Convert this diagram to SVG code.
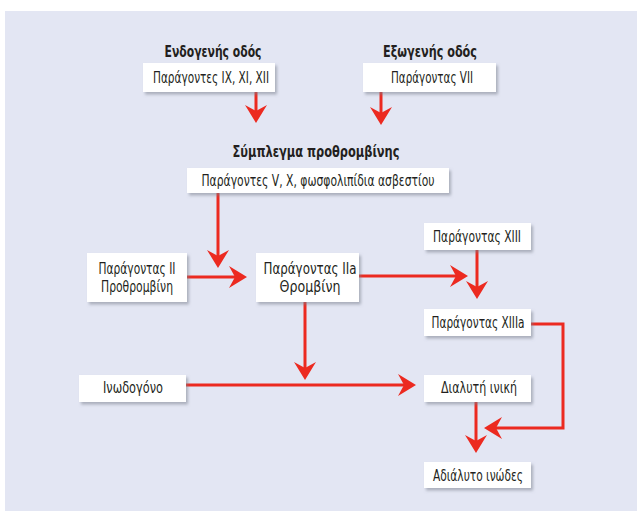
<svg xmlns="http://www.w3.org/2000/svg" width="637" height="511" viewBox="0 0 637 511">
  <style>
    .box { fill: #ffffff; filter: url(#sh); }
    .t { font-family: "Liberation Sans Narrow", "DejaVu Sans Condensed", "Liberation Sans", sans-serif; font-size: 15px; fill: #231f20; text-anchor: middle; }
    .h { font-family: "Liberation Sans Narrow", "DejaVu Sans Condensed", "Liberation Sans", sans-serif; font-size: 15px; font-weight: bold; fill: #231f20; text-anchor: middle; }
    .c { fill: none; stroke: #ec2a20; stroke-width: 3; marker-end: url(#ah); }
  </style>
  <defs>
    <filter id="sh" x="-10%" y="-20%" width="130%" height="160%">
      <feDropShadow dx="2" dy="2.5" stdDeviation="1.5" flood-color="#7a7f8c" flood-opacity="0.55"/>
    </filter>
    <marker id="ah" viewBox="0 0 18 22" refX="12" refY="11" markerWidth="18" markerHeight="22" markerUnits="userSpaceOnUse" orient="auto">
      <path d="M0,0 L18,11 L0,22 L6,11 Z" fill="#ec2a20"/>
    </marker>
  </defs>
  <rect x="0" y="0" width="637" height="511" fill="#ffffff"/>
  <rect x="5" y="11" width="632" height="500" fill="#e3e6f3"/>

  <g id="connectors">
    <path class="c" d="M256,92 V117"/>
    <path class="c" d="M381,92 V119"/>
    <path class="c" d="M218,193 V262"/>
    <path class="c" d="M187,277 H241"/>
    <path class="c" d="M359,276 H462"/>
    <path class="c" d="M477,250 V293"/>
    <path class="c" d="M305,302 V374"/>
    <path class="c" d="M186,385 H410"/>
    <path class="c" d="M531,324 H563 V428 H490"/>
    <path class="c" d="M476,402 V447"/>
  </g>

  <g id="title-endogenous">
    <text class="h" x="213" y="57" textLength="97" lengthAdjust="spacingAndGlyphs">Ενδογενής οδός</text>
  </g>
  <g id="title-exogenous">
    <text class="h" x="430" y="57" textLength="94" lengthAdjust="spacingAndGlyphs">Εξωγενής οδός</text>
  </g>
  <g id="title-prothrombin-complex">
    <text class="h" x="316" y="157" textLength="167" lengthAdjust="spacingAndGlyphs">Σύμπλεγμα προθρομβίνης</text>
  </g>

  <g id="node-ix-xi-xii">
    <rect class="box" x="143" y="63" width="132" height="29"/>
    <text class="t" x="211" y="83" textLength="116" lengthAdjust="spacingAndGlyphs">Παράγοντες IX, XI, XII</text>
  </g>
  <g id="node-vii">
    <rect class="box" x="363" y="63" width="133" height="29"/>
    <text class="t" x="432" y="83" textLength="82" lengthAdjust="spacingAndGlyphs">Παράγοντας VII</text>
  </g>
  <g id="node-v-x">
    <rect class="box" x="187" y="168" width="262" height="25"/>
    <text class="t" x="318" y="186" textLength="233" lengthAdjust="spacingAndGlyphs">Παράγοντες V, X, φωσφολιπίδια ασβεστίου</text>
  </g>
  <g id="node-ii">
    <rect class="box" x="87" y="253" width="100" height="49"/>
    <text class="t" x="137" y="274" textLength="77" lengthAdjust="spacingAndGlyphs">Παράγοντας II</text>
    <text class="t" x="137" y="292" textLength="72" lengthAdjust="spacingAndGlyphs">Προθρομβίνη</text>
  </g>
  <g id="node-iia">
    <rect class="box" x="256" y="253" width="103" height="49"/>
    <text class="t" x="310" y="274" textLength="93" lengthAdjust="spacingAndGlyphs">Παράγοντας IIa</text>
    <text class="t" x="310" y="292" textLength="61" lengthAdjust="spacingAndGlyphs">Θρομβίνη</text>
  </g>
  <g id="node-xiii">
    <rect class="box" x="424" y="223" width="107" height="27"/>
    <text class="t" x="477" y="242" textLength="88" lengthAdjust="spacingAndGlyphs">Παράγοντας XIII</text>
  </g>
  <g id="node-xiiia">
    <rect class="box" x="424" y="309" width="107" height="27"/>
    <text class="t" x="478" y="328" textLength="93" lengthAdjust="spacingAndGlyphs">Παράγοντας XIIIa</text>
  </g>
  <g id="node-fibrinogen">
    <rect class="box" x="79" y="375" width="107" height="27"/>
    <text class="t" x="133" y="393" textLength="60" lengthAdjust="spacingAndGlyphs">Ινωδογόνο</text>
  </g>
  <g id="node-soluble-fibrin">
    <rect class="box" x="424" y="375" width="107" height="27"/>
    <text class="t" x="479" y="393" textLength="76" lengthAdjust="spacingAndGlyphs">Διαλυτή ινική</text>
  </g>
  <g id="node-insoluble-fibrin">
    <rect class="box" x="424" y="462" width="107" height="26"/>
    <text class="t" x="478" y="481" textLength="90" lengthAdjust="spacingAndGlyphs">Αδιάλυτο ινώδες</text>
  </g>
</svg>
